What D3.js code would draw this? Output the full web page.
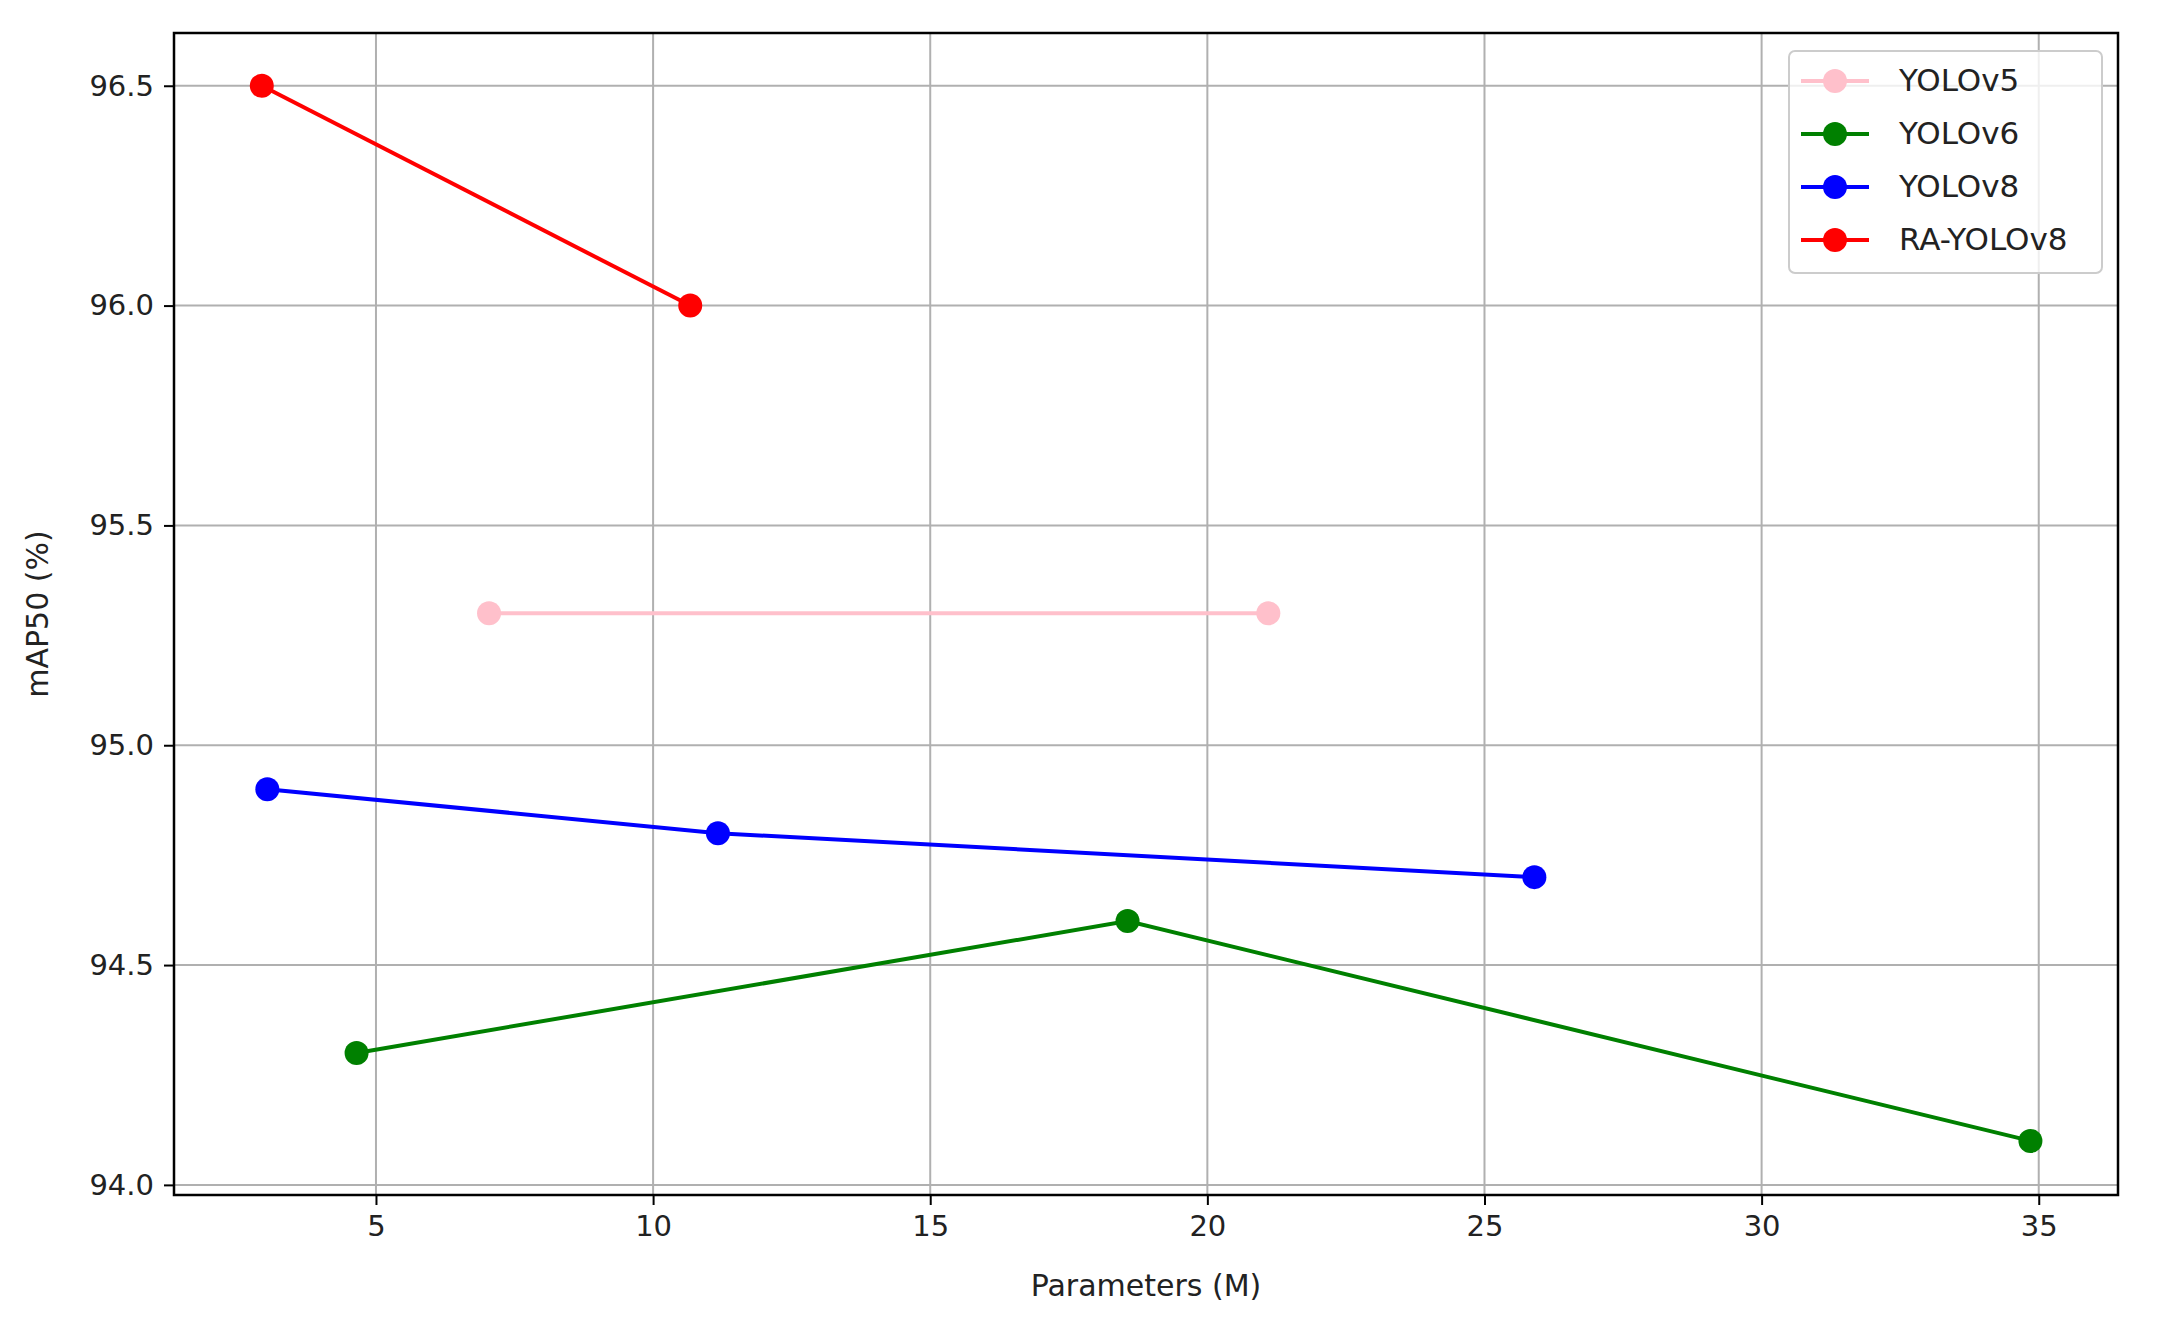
<!DOCTYPE html>
<html><head><meta charset="utf-8">
<script src="https://cdn.jsdelivr.net/npm/d3@7"></script>
<style>body{margin:0;background:#fff}text{font-family:"DejaVu Sans",sans-serif}</style>
</head><body><svg id="chart" width="2160" height="1328"></svg>
<script>
var names = ['YOLOv5', 'YOLOv6', 'YOLOv8', 'RA-YOLOv8']
var colors = ['pink', 'green', 'blue', 'red']
var yolov5 = [[7.04, 95.3], [21.1, 95.3]]
var yolov6 = [[4.65, 94.3], [18.56, 94.6], [34.85, 94.1]]
var yolov8 = [[3.04, 94.9], [11.17, 94.8], [25.9, 94.7]]
var rayolov8 = [[2.94, 96.5], [10.67, 96.0]]
var series = [yolov5, yolov6, yolov8, rayolov8]
var xTicks = [5, 10, 15, 20, 25, 30, 35]
var yTicks = [94.0, 94.5, 95.0, 95.5, 96.0, 96.5]

var margin = { top: 33, left: 174, right: 42, bottom: 133 }
var width = 2160 - margin.left - margin.right
var height = 1328 - margin.top - margin.bottom

var svg = d3.select('#chart')
var g = svg.append('g').attr('transform', 'translate(' + margin.left + ',' + margin.top + ')')

var x = d3.scaleLinear().domain([1.356, 36.43]).range([0, width])
var y = d3.scaleLinear().domain([93.977, 96.62]).range([height, 0])

// grid
g.selectAll('.gx').data(xTicks).enter().append('line')
  .attr('x1', d => x(d)).attr('x2', d => x(d)).attr('y1', 0).attr('y2', height)
  .attr('stroke', '#b0b0b0').attr('stroke-width', 2)
g.selectAll('.gy').data(yTicks).enter().append('line')
  .attr('y1', d => y(d)).attr('y2', d => y(d)).attr('x1', 0).attr('x2', width)
  .attr('stroke', '#b0b0b0').attr('stroke-width', 2)

var xAxis = g.append('g').attr('transform', 'translate(0,' + height + ')')
  .call(d3.axisBottom(x).tickValues(xTicks).tickSize(10).tickPadding(10))
var yAxis = g.append('g')
  .call(d3.axisLeft(y).tickValues(yTicks).tickFormat(d3.format('.1f')).tickSize(10).tickPadding(10))
;[xAxis, yAxis].forEach(a => {
  a.select('.domain').remove()
  a.selectAll('line').attr('stroke', '#000').attr('stroke-width', 2)
  a.selectAll('text').attr('font-size', 29).attr('fill', '#222').style('font-family', '"DejaVu Sans"')
})

g.append('rect').attr('width', width).attr('height', height)
  .attr('fill', 'none').attr('stroke', '#000').attr('stroke-width', 2.5)

var line = d3.line().x(d => x(d[0])).y(d => y(d[1]))
series.forEach((s, i) => {
  g.append('path').datum(s).attr('d', line).attr('fill', 'none')
    .attr('stroke', colors[i]).attr('stroke-width', 4)
  g.selectAll('.p' + i).data(s).enter().append('circle')
    .attr('cx', d => x(d[0])).attr('cy', d => y(d[1])).attr('r', 12).attr('fill', colors[i])
})

svg.append('text').attr('x', margin.left + width / 2).attr('y', 1296)
  .attr('text-anchor', 'middle').attr('font-size', 30).attr('fill', '#222').text('Parameters (M)')
svg.append('text').attr('transform', 'translate(48,' + (margin.top + height / 2) + ') rotate(-90)')
  .attr('text-anchor', 'middle').attr('font-size', 30).attr('fill', '#222').text('mAP50 (%)')

// legend
var lg = svg.append('g').attr('transform', 'translate(1789,51)')
lg.append('rect').attr('width', 313).attr('height', 222).attr('rx', 6)
  .attr('fill', '#fff').attr('fill-opacity', 0.8).attr('stroke', '#ccc').attr('stroke-width', 2)
names.forEach((n, i) => {
  var yy = 30 + i * 53
  lg.append('line').attr('x1', 12).attr('x2', 80).attr('y1', yy).attr('y2', yy)
    .attr('stroke', colors[i]).attr('stroke-width', 4)
  lg.append('circle').attr('cx', 46).attr('cy', yy).attr('r', 12).attr('fill', colors[i])
  lg.append('text').attr('x', 110).attr('y', yy + 10).attr('font-size', 31).attr('fill', '#222').text(n)
})
</script></body></html>
